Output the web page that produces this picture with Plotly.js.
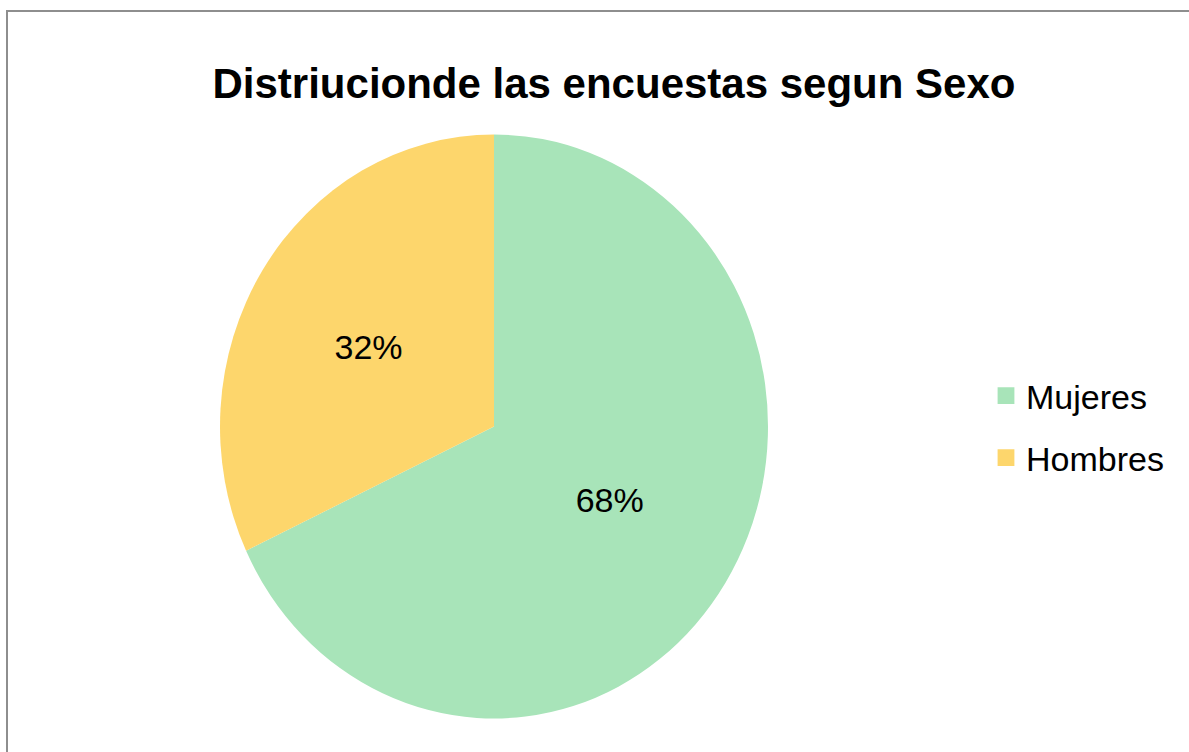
<!DOCTYPE html>
<html>
<head>
<meta charset="utf-8">
<script src="https://cdn.plot.ly/plotly-3.0.1.min.js"></script>
<style>
  html, body { margin: 0; padding: 0; background: #ffffff; }
  #chart { width: 1189px; height: 752px; position: absolute; left: 0; top: 0; }
  #frame { position: absolute; left: 6px; top: 10px; width: 1200px; height: 800px;
           border-left: 2px solid #8e8e8e; border-top: 2px solid #8e8e8e; pointer-events: none; }
</style>
</head>
<body>
<div id="chart"></div>
<div id="frame"></div>
<script>
const categories = ["Mujeres", "Hombres"];
const shares = [68, 32];
const sliceColors = ["#A8E4B9", "#FDD66C"];
const chartTitle = "Distriucionde las encuestas segun Sexo";

const FONT = "'Liberation Sans', Arial, sans-serif";
const W = 1189, H = 752;
const cx = 494, cy = 426.5, rx = 274, ry = 292;

const trace = {
  type: "pie",
  labels: categories,
  values: shares,
  sort: false,
  direction: "clockwise",
  rotation: 0,
  marker: { colors: sliceColors, line: { color: "#ffffff", width: 0 } },
  textinfo: "percent",
  texttemplate: "%{percent:.0%}",
  textposition: "inside",
  insidetextorientation: "horizontal",
  textfont: { family: FONT, size: 34, color: "#000000" },
  hoverinfo: "label+percent",
  domain: {
    x: [(cx - rx) / W, (cx + rx) / W],
    y: [1 - (cy + rx) / H, 1 - (cy - rx) / H]
  }
};

const layout = {
  width: W,
  height: H,
  margin: { l: 0, r: 0, t: 0, b: 0 },
  paper_bgcolor: "#ffffff",
  plot_bgcolor: "#ffffff",
  font: { family: FONT, color: "#000000" },
  title: {
    text: "<b>" + chartTitle + "</b>",
    font: { family: FONT, size: 42, color: "#000000" },
    x: 614 / W, xanchor: "center",
    y: 1 - 83 / H, yanchor: "middle",
    xref: "container", yref: "container"
  },
  showlegend: true,
  legend: {
    x: 986 / W, xanchor: "left",
    y: 1 - 427 / H, yanchor: "middle",
    font: { family: FONT, size: 34, color: "#000000" },
    bgcolor: "rgba(0,0,0,0)"
  }
};

Plotly.newPlot("chart", [trace], layout, { displayModeBar: false, staticPlot: true }).then(function () {
  // stretch the pie slightly vertically, as in the reference
  const k = ry / rx;
  document.querySelectorAll(".pielayer path.surface").forEach(function (p) {
    p.setAttribute("transform", "translate(0," + cy + ") scale(1," + k + ") translate(0," + (-cy) + ")");
  });
  // larger legend swatches and wider spacing between the two entries
  document.querySelectorAll(".legend .legendpoints path").forEach(function (p) {
    const t = p.getAttribute("transform") || "";
    p.setAttribute("transform", t + " scale(1.4)");
  });
  const items = Array.from(document.querySelectorAll(".legend g.traces"));
  if (items.length === 2) {
    const ys = items.map(function (g) {
      const m = /translate\(\s*([-\d.]+)[ ,]+([-\d.]+)\s*\)/.exec(g.getAttribute("transform") || "");
      return m ? [parseFloat(m[1]), parseFloat(m[2])] : [0, 0];
    });
    const mid = (ys[0][1] + ys[1][1]) / 2;
    items[0].setAttribute("transform", "translate(" + ys[0][0] + "," + (mid - 31) + ")");
    items[1].setAttribute("transform", "translate(" + ys[1][0] + "," + (mid + 31) + ")");
  }
});
</script>
</body>
</html>
